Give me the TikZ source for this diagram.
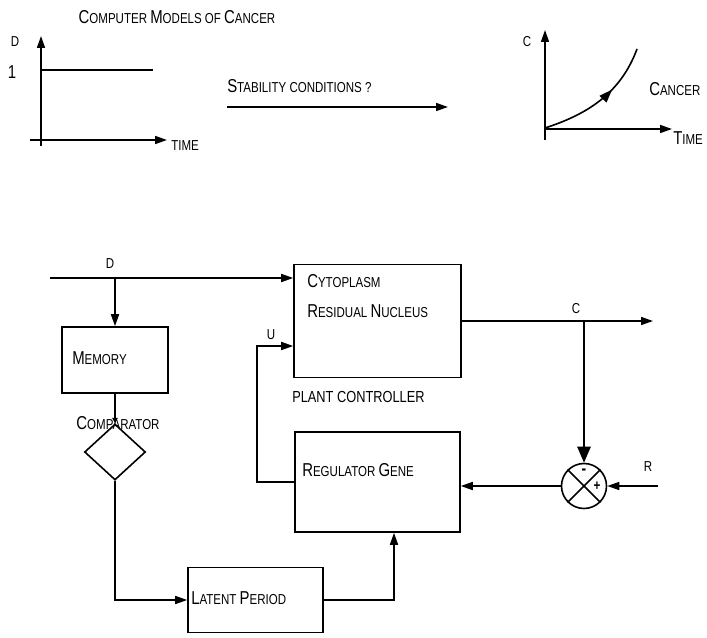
\documentclass[tikz,border=0pt]{standalone}
\usepackage{fontspec}
\setmainfont{Liberation Sans}[FakeStretch=0.8]
\usetikzlibrary{positioning, calc, arrows.meta, shapes.geometric, decorations.markings}

\tikzset{
    block/.style={draw, line width=1.2pt, inner sep=0pt},
    wire/.style={line width=1.2pt},
    lbl/.style={inner sep=0pt, font=\fontsize{10.8}{11}\selectfont},
    midarrow/.style={postaction={decorate}, decoration={markings,
        mark=at position 0.62 with {\arrow{Triangle[length=10pt,width=7pt]}}}},
}
\newcommand{\ini}[1]{{\fontsize{14}{14}\selectfont #1}}

\begin{document}
\begin{tikzpicture}[x=0.75pt, y=-0.75pt, >={Triangle[length=9pt,width=6pt]}]
    \useasboundingbox (0,0) rectangle (707,638);

    % ==========================================
    % TOP ROW: input step, question, cancer growth
    % ==========================================
    \node[lbl] (title) at (177,17) {\ini{C}OMPUTER \ini{M}ODELS OF \ini{C}ANCER};

    % Left graph (D versus time)
    \draw[wire, ->] (41,146) -- (41,36);
    \draw[wire, ->] (30,140) -- (167,140);
    \draw[wire] (41,70) -- (153,70);
    \node[lbl] (dlab) at (15,42) {D};
    \node[inner sep=0pt, font=\fontsize{14}{14}\selectfont] (one) at (12,72) {1};
    \node[lbl, anchor=west] (time1) at (171,146) {TIME};

    % Question arrow
    \node[lbl, anchor=west] (stab) at (227,86) {\ini{S}TABILITY CONDITIONS ?};
    \draw[wire, ->] (227,107) -- (448,107);

    % Right graph (C versus time)
    \draw[wire, ->] (545,140) -- (545,30);
    \draw[wire, ->] (545,129) -- (672,129);
    \draw[wire, midarrow] (545,128) .. controls (585,115) and (620,95) .. (637,49);
    \node[lbl] (clab) at (527,42) {C};
    \node[lbl, anchor=west] (cancer) at (649,89) {\ini{C}ANCER};
    \node[lbl, anchor=west] (time2) at (673,138) {\ini{T}IME};

    % ==========================================
    % BOTTOM: block diagram of the control loop
    % ==========================================
    \node[block, minimum width=79.5pt, minimum height=49.5pt] (memory) at (115,360) {};
    \node[block, diamond, minimum width=45.75pt, minimum height=42pt] (comp) at (115,452) {};
    \node[block, minimum width=101.25pt, minimum height=48.75pt] (latent) at (255.5,600) {};
    \node[block, minimum width=125.25pt, minimum height=84.75pt] (cyto) at (377.5,321) {};
    \node[block, minimum width=123.75pt, minimum height=75pt] (reg) at (377.5,482) {};
    \node[block, circle, minimum size=33.75pt] (sum) at (584,486) {};

    % Box texts
    \node[lbl, anchor=west] (memtxt) at (72,358) {\ini{M}EMORY};
    \node[lbl] (comptxt) at (118,423) {\ini{C}OMPARATOR};
    \node[lbl, anchor=west] (lattxt) at (191,598) {\ini{L}ATENT \ini{P}ERIOD};
    \node[lbl, anchor=west] (cytotxt) at (307,281) {\ini{C}YTOPLASM};
    \node[lbl, anchor=west] (restxt) at (307,311) {\ini{R}ESIDUAL \ini{N}UCLEUS};
    \node[lbl, anchor=west] (regtxt) at (302,470) {\ini{R}EGULATOR \ini{G}ENE};
    \node[inner sep=0pt, anchor=west, font=\fontsize{12}{12}\selectfont] (plant) at (292,397) {PLANT CONTROLLER};

    % Summing junction signs
    \draw[wire] (sum.north west) -- (sum.south east);
    \draw[wire] (sum.north east) -- (sum.south west);
    \node[inner sep=0pt, font=\bfseries\fontsize{13}{13}\selectfont] (minus) at (584,472) {-};
    \node[inner sep=0pt, font=\bfseries\fontsize{11}{11}\selectfont] (plus) at (597,486) {+};

    % Signal points
    \coordinate (din) at (50,278);
    \coordinate (dsplit) at (115,278);
    \coordinate (cout) at (653,321);
    \coordinate (csplit) at (584,321);
    \coordinate (rin) at (658,486);
    \coordinate (uloop) at (257,482);
    \coordinate (uin) at ($(cyto.west)+(0,25)$);
    \coordinate (regin) at ($(reg.south)+(16.5,0)$);

    % Signal labels
    \node[lbl] (dsig) at (110,264) {D};
    \node[lbl] (csig) at (576,309) {C};
    \node[lbl] (usig) at (271,335) {U};
    \node[lbl] (rsig) at (648,467) {R};

    % Connectors
    \draw[wire, ->] (din) -- (din -| cyto.west);
    \draw[wire, ->] (dsplit) -- (memory.north);
    \draw[wire, -{Triangle[length=4pt,width=4pt]}] (memory.south) -- (comp.north);
    \draw[wire, ->] (comp.south) |- (latent.west);
    \draw[wire, ->] (latent.east) -| (regin);
    \draw[wire, ->] (reg.west) -- (uloop) |- (uin);
    \draw[wire, ->] (cyto.east |- cout) -- (cout);
    \draw[wire, -{Triangle[length=12pt,width=10pt]}] (csplit) -- (sum.north);
    \draw[wire, ->] (rin) -- (sum.east);
    \draw[wire, ->] (sum.west) -- (sum.west -| reg.east);

\end{tikzpicture}
\end{document}
